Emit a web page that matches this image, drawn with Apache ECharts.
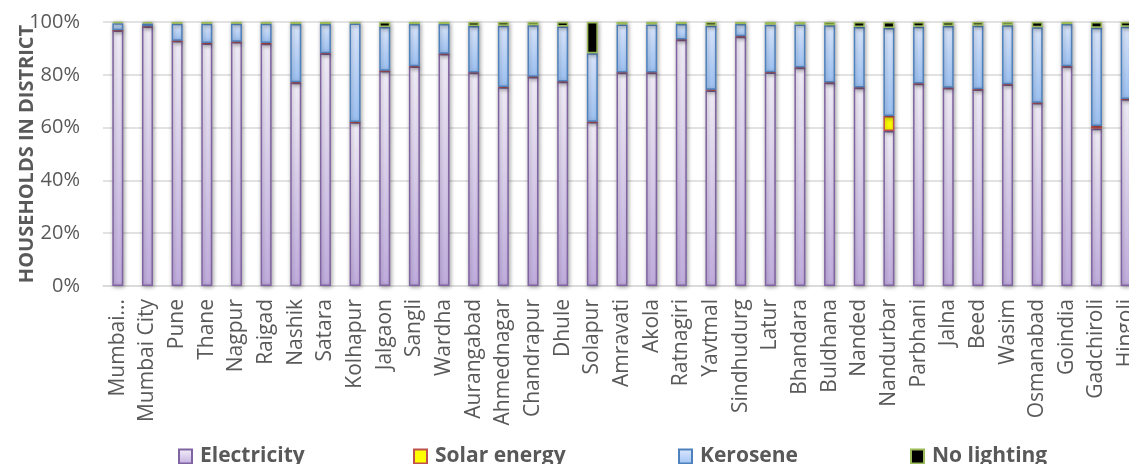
<!DOCTYPE html>
<html>
<head>
<meta charset="utf-8">
<script src="https://cdn.jsdelivr.net/npm/echarts@6/dist/echarts.min.js"></script>
<style>
  html, body { margin: 0; padding: 0; background: #ffffff; }
  #chart { width: 1129px; height: 464px; }
</style>
</head>
<body>
<div id="chart"></div>
<script>
// Districts of Maharashtra, share of households by main source of lighting (%)
const districts = [
  'Mumbai Suburban', 'Mumbai City', 'Pune', 'Thane', 'Nagpur', 'Raigad', 'Nashik',
  'Satara', 'Kolhapur', 'Jalgaon', 'Sangli', 'Wardha', 'Aurangabad', 'Ahmednagar',
  'Chandrapur', 'Dhule', 'Solapur', 'Amravati', 'Akola', 'Ratnagiri', 'Yavtmal',
  'Sindhudurg', 'Latur', 'Bhandara', 'Buldhana', 'Nanded', 'Nandurbar', 'Parbhani',
  'Jalna', 'Beed', 'Wasim', 'Osmanabad', 'Goindia', 'Gadchiroli', 'Hingoli'
];
const electricity = [
  96.8, 98.3, 92.8, 91.9, 92.4, 91.8, 77.0, 88.1, 62.0, 81.4, 83.1, 87.9, 80.8, 75.3,
  79.2, 77.4, 62.1, 80.8, 80.8, 93.3, 74.1, 94.4, 80.9, 82.7, 77.0, 75.1, 58.7, 76.6,
  75.0, 74.4, 76.3, 69.3, 83.1, 59.6, 70.7
];
const solarEnergy = [
  0.05, 0.05, 0.1, 0.1, 0.1, 0.2, 0.2, 0.1, 0.1, 0.1, 0.1, 0.1, 0.1, 0.1,
  0.1, 0.1, 0.1, 0.1, 0.1, 0.1, 0.2, 0.2, 0.1, 0.1, 0.1, 0.1, 5.7, 0.1,
  0.1, 0.1, 0.1, 0.1, 0.1, 1.0, 0.1
];
const kerosene = [
  2.7, 1.1, 6.4, 7.3, 6.8, 7.3, 22.0, 11.0, 37.3, 16.6, 16.0, 11.2, 17.6, 23.2,
  19.5, 20.8, 26.0, 18.2, 18.2, 5.8, 24.3, 4.6, 18.0, 16.3, 21.7, 22.9, 33.3, 21.5,
  23.4, 24.1, 22.4, 28.6, 16.0, 37.2, 27.4
];
const noLighting = [
  0.45, 0.55, 0.7, 0.7, 0.7, 0.7, 0.8, 0.8, 0.6, 1.9, 0.8, 0.8, 1.5, 1.4,
  1.2, 1.7, 11.8, 0.9, 0.9, 0.8, 1.4, 0.8, 1.0, 0.9, 1.2, 1.9, 2.3, 1.8,
  1.5, 1.4, 1.2, 2.0, 0.8, 2.2, 1.8
];
const yTicks = [0, 20, 40, 60, 80, 100];

const GREY = '#595959';
const FONT = '"Open Sans", "Noto Sans", sans-serif';

function vGrad(top, bottom) {
  return new echarts.graphic.LinearGradient(0, 0, 0, 1, [
    { offset: 0, color: top },
    { offset: 1, color: bottom }
  ]);
}

const shadow = {
  shadowBlur: 4,
  shadowColor: 'rgba(0,0,0,0.35)',
  shadowOffsetX: 1,
  shadowOffsetY: 1
};

function barSeries(name, data, itemStyle) {
  return {
    name: name,
    type: 'bar',
    stack: 'total',
    data: data,
    barWidth: 11,
    itemStyle: Object.assign({ borderWidth: 1.5 }, shadow, itemStyle),
    emphasis: { disabled: true }
  };
}

const legendBase = {
  orient: 'horizontal',
  top: 441,
  itemWidth: 13,
  itemHeight: 14,
  icon: 'rect',
  selectedMode: false,
  textStyle: {
    fontFamily: FONT,
    fontSize: 21,
    fontWeight: 'bold',
    color: GREY,
    padding: [0, 0, 0, 3]
  }
};
const legendSpots = [
  ['Electricity', 173],
  ['Solar energy', 408],
  ['Kerosene', 673],
  ['No lighting', 905]
];

const option = {
  animation: false,
  backgroundColor: '#ffffff',
  // the plot runs a little past the right edge of the page
  grid: {
    left: 103, top: 22, right: -12, bottom: 178,
    containLabel: false,
    outerBoundsMode: 'none'
  },
  legend: legendSpots.map(([name, x]) =>
    Object.assign({}, legendBase, { data: [name], left: x })
  ),
  xAxis: {
    type: 'category',
    data: districts,
    axisTick: { show: false },
    axisLine: { lineStyle: { color: '#d9d9d9', width: 1.5 } },
    axisLabel: {
      interval: 0,
      rotate: 90,
      margin: 13,
      fontFamily: FONT,
      fontSize: 21,
      color: GREY,
      // long names are cut after the first word
      formatter: (v) => (v.length > 13 ? v.split(' ')[0] + '...' : v)
    }
  },
  yAxis: {
    type: 'value',
    min: yTicks[0],
    max: yTicks[yTicks.length - 1],
    interval: yTicks[1] - yTicks[0],
    name: 'HOUSEHOLDS IN DISTRICT',
    nameLocation: 'middle',
    nameGap: 66,
    nameMoveOverlap: false,
    nameTextStyle: {
      fontFamily: FONT,
      fontSize: 20,
      fontWeight: 'bold',
      color: GREY
    },
    axisLine: { show: false },
    axisTick: { show: false },
    splitLine: { lineStyle: { color: '#d9d9d9', width: 1.5 } },
    axisLabel: {
      margin: 23,
      fontFamily: FONT,
      fontSize: 20,
      color: GREY,
      formatter: '{value}%'
    }
  },
  series: [
    barSeries('Electricity', electricity, {
      color: vGrad('#f4f0fa', '#c3afe1'),
      borderColor: '#8064a2'
    }),
    barSeries('Solar energy', solarEnergy, {
      color: '#ffff00',
      borderColor: '#c0504d'
    }),
    barSeries('Kerosene', kerosene, {
      color: vGrad('#dde9fe', '#9ec3f5'),
      borderColor: '#4f81bd'
    }),
    barSeries('No lighting', noLighting, {
      color: '#000000',
      borderColor: '#9bbb59'
    })
  ]
};

const chart = echarts.init(document.getElementById('chart'), null, { renderer: 'canvas' });
chart.setOption(option);
</script>
</body>
</html>
